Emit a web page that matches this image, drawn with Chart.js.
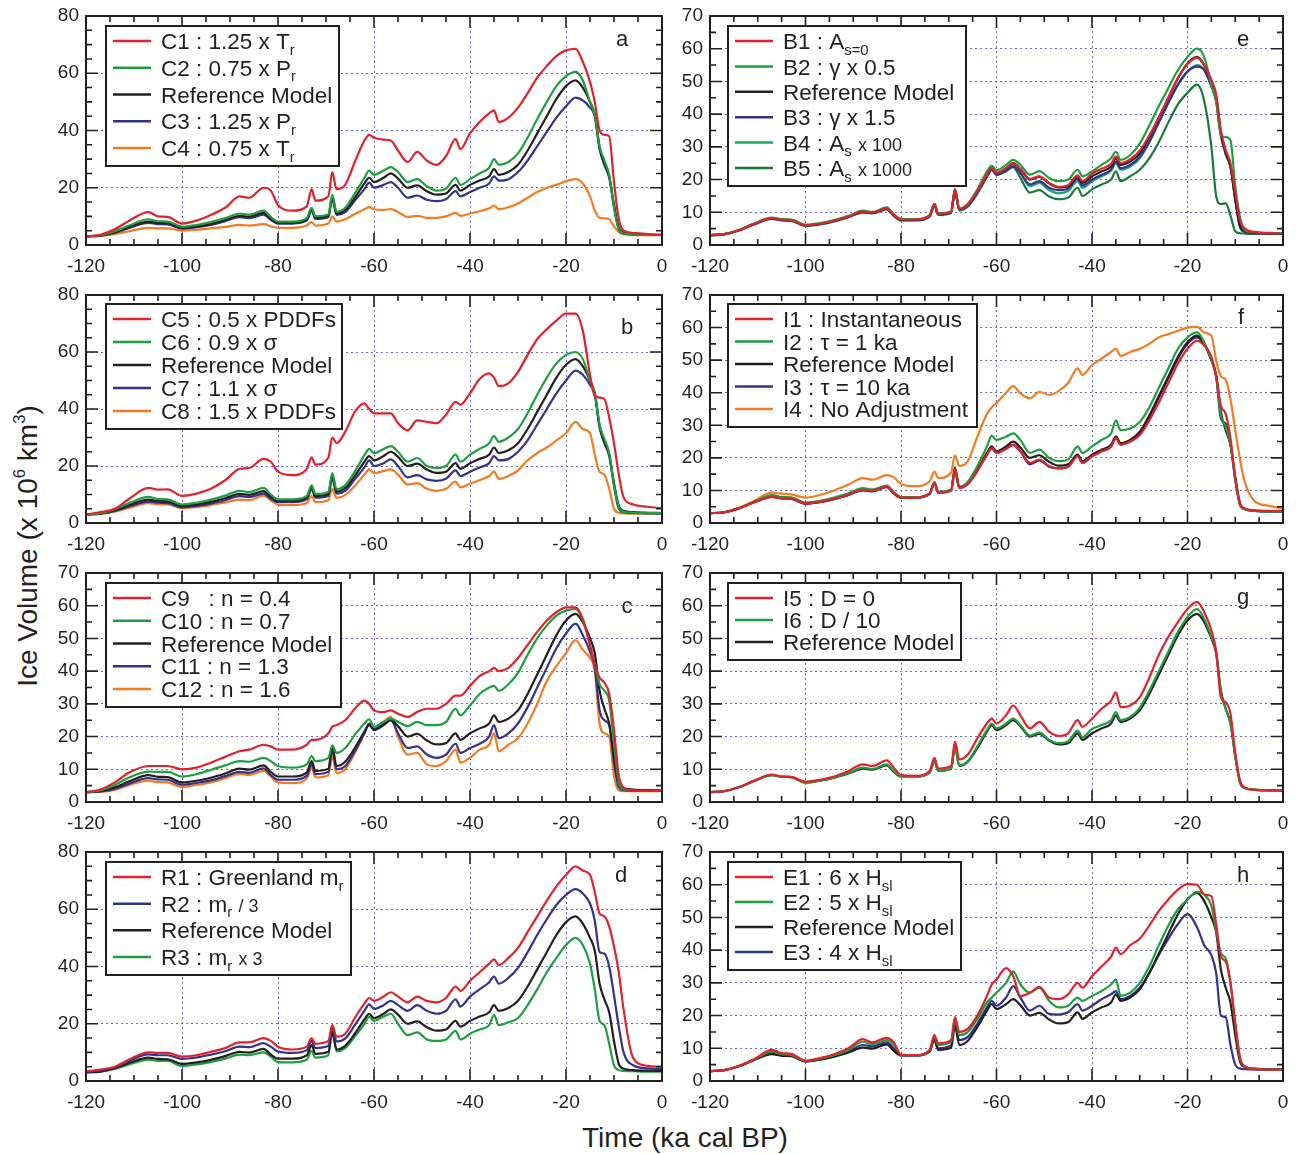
<!DOCTYPE html>
<html>
<head>
<meta charset="utf-8">
<script src="https://cdn.jsdelivr.net/npm/chart.js@4.4.1/dist/chart.umd.min.js"></script>
<style>
  body { margin: 0; background: #fff; }
  #wrap { position: relative; width: 1296px; height: 1154px; overflow: hidden; font-family: 'Liberation Sans', Arial, sans-serif; color: #231f20; }
  #wrap canvas { position: absolute; }
  #ytitle { position: absolute; left: -132px; top: 530px; width: 320px; height: 32px; line-height: 32px; text-align: center; font-size: 28px; transform: rotate(-90deg); white-space: nowrap; }
  #xtitle { position: absolute; left: 485px; top: 1122px; width: 400px; height: 32px; line-height: 32px; text-align: center; font-size: 28px; white-space: nowrap; }
  sup { font-size: 0.6em; vertical-align: 0.7em; line-height: 0; }
</style>
</head>
<body>
<div id="wrap">
  <div id="ytitle">Ice Volume (x 10<sup>6</sup> km<sup>3</sup>)</div>
  <div id="xtitle">Time (ka cal BP)</div>
</div>
<script>
// time axis (ka cal BP), shared by every series
const times = [
  -120, -117, -114, -111, -107, -105, -103, -100, -97, -94,
  -91, -88, -86, -83, -81.5, -80, -77, -74, -73, -72.2,
  -69.5, -68.7, -67.8, -66, -64, -62, -61, -60, -58, -56.5,
  -55, -53, -51, -49, -47, -45, -43, -42, -40, -38,
  -36, -35, -34, -32, -30, -28, -26, -24, -22, -20,
  -18, -16.5, -15, -14, -13, -12, -11, -10, -9, -8,
  -6, -3, 0
];

// reference model (black curve in every panel)
const refModel = [
  3.0, 3.3, 4.5, 6.3, 8.2, 7.7, 7.6, 6.0, 6.5, 7.4,
  8.7, 10.2, 9.9, 11.2, 9.2, 7.8, 7.8, 9.0, 12.5, 9.5,
  10.2, 17.0, 11.0, 12.3, 16.5, 21.5, 23.5, 22.0, 23.5, 25.0,
  23.2, 20.0, 20.8, 18.8, 17.6, 18.0, 21.0, 19.0, 21.0, 22.5,
  24.0, 26.5, 24.5, 25.5, 28.0, 33.0, 39.0, 45.0, 51.0, 55.5,
  57.5, 55.0, 50.0, 45.5, 34.0, 28.5, 24.0, 14.0, 6.0, 4.3,
  3.8, 3.6, 3.5
];

// panel a
const c1 = [
  3.0, 3.6, 5.5, 8.5, 11.5, 10.0, 9.8, 7.5, 8.5, 10.5,
  13.0, 17.0, 16.5, 20.0, 19.0, 14.0, 12.0, 13.5, 19.5, 15.5,
  17.0, 25.5, 19.5, 21.0, 29.0, 36.5, 38.5, 37.5, 36.8, 36.5,
  33.0, 29.0, 32.5, 29.5, 28.0, 31.0, 37.0, 33.5, 39.0, 43.0,
  46.0, 47.0, 43.0, 44.5, 48.0, 53.0, 58.5, 62.5, 66.0, 68.0,
  68.5, 64.0, 57.0, 50.0, 40.0, 38.5, 38.0, 22.0, 9.0, 5.0,
  4.2, 3.8, 3.6
];
const c2 = [
  3.0, 3.4, 4.8, 6.8, 9.0, 8.3, 8.2, 6.4, 7.0, 8.0,
  9.4, 11.0, 10.6, 12.0, 9.8, 8.2, 8.2, 9.4, 13.0, 10.0,
  10.7, 17.5, 11.6, 13.0, 18.0, 23.5, 26.0, 24.5, 26.0, 27.2,
  25.5, 22.0, 23.0, 20.5, 19.0, 19.7, 23.5, 21.0, 23.0, 25.0,
  27.0, 30.0, 28.0, 29.0, 32.0, 37.5, 44.0, 50.0, 55.5, 59.0,
  60.5, 57.5, 50.0, 45.5, 34.5, 29.5, 24.5, 13.0, 5.5, 4.0,
  3.7, 3.5, 3.5
];
const c3 = [
  3.0, 3.3, 4.3, 6.0, 7.7, 7.3, 7.2, 5.7, 6.2, 7.0,
  8.3, 9.7, 9.4, 10.6, 8.8, 7.5, 7.5, 8.6, 12.0, 9.1,
  9.8, 16.0, 10.5, 11.5, 15.5, 19.5, 21.8, 20.0, 21.0, 22.0,
  20.0, 16.5, 17.3, 15.8, 15.3, 16.0, 18.8, 17.0, 18.5, 20.0,
  21.5, 24.0, 22.5, 23.0, 25.5, 29.5, 34.5, 39.5, 44.5, 48.5,
  51.5, 50.5, 48.0, 45.0, 33.5, 28.0, 23.5, 13.5, 5.5, 4.0,
  3.7, 3.5, 3.5
];
const c4 = [
  3.0, 3.2, 3.8, 4.8, 6.0, 5.8, 5.8, 5.0, 5.3, 5.8,
  6.3, 7.0, 6.8, 7.3, 6.5, 6.0, 6.0, 6.8, 8.0, 6.8,
  7.5, 10.0, 8.2, 9.0, 10.8, 12.5, 13.2, 12.5, 12.3, 12.5,
  11.5, 9.8, 10.2, 9.5, 9.5, 10.0, 11.2, 10.2, 11.0, 11.8,
  12.8, 13.8, 12.5, 13.2, 14.5, 16.5, 18.5, 20.0, 21.0, 22.3,
  23.0, 21.5, 17.0, 12.0, 9.5, 9.3, 9.0, 6.5, 4.5, 3.8,
  3.5, 3.4, 3.4
];

// panel b
const c5 = [
  3.0, 3.8, 5.0, 8.5, 12.3, 11.7, 11.8, 9.5, 10.3, 12.0,
  15.0, 19.0, 19.3, 22.5, 21.5, 18.0, 16.8, 19.0, 23.0, 20.5,
  23.0, 30.0, 28.0, 32.0, 39.0, 42.0, 40.0, 38.5, 38.5, 38.5,
  35.0, 32.5, 36.0, 35.5, 35.0, 38.0, 42.5, 41.5, 45.5, 50.5,
  52.5, 51.0, 48.0, 49.0, 53.0, 59.0, 64.5, 68.0, 71.0, 73.5,
  73.5, 67.5, 52.0, 44.5, 44.0, 43.5, 37.0, 28.0, 17.0, 9.0,
  6.5, 5.7, 5.2
];
const c6 = [
  3.0, 3.4, 4.8, 7.0, 9.2, 8.4, 8.3, 6.5, 7.1, 8.1,
  9.6, 11.3, 10.8, 12.3, 10.0, 8.3, 8.3, 9.5, 13.2, 10.2,
  10.9, 17.5, 11.8, 13.2, 18.0, 23.8, 26.0, 24.5, 26.0, 27.0,
  25.0, 21.5, 22.8, 20.0, 19.3, 20.0, 24.0, 21.5, 24.0, 26.0,
  28.0, 30.5, 28.5, 30.0, 33.0, 38.5, 45.0, 51.0, 56.0, 59.0,
  60.0, 57.5, 50.0, 45.5, 34.5, 29.5, 24.5, 13.5, 5.5, 4.0,
  3.6, 3.5, 3.5
];
const c7 = [
  3.0, 3.3, 4.2, 5.8, 7.5, 7.1, 7.0, 5.5, 6.0, 6.8,
  8.0, 9.4, 9.1, 10.3, 8.5, 7.3, 7.3, 8.4, 11.8, 8.9,
  9.6, 15.8, 10.3, 11.3, 15.3, 19.5, 22.0, 20.0, 21.0, 22.3,
  20.0, 16.0, 16.8, 15.3, 14.8, 15.5, 18.5, 16.5, 18.0, 19.5,
  21.0, 23.5, 22.0, 22.5, 25.0, 29.0, 34.5, 40.0, 45.5, 50.0,
  53.5, 52.0, 48.5, 45.0, 33.5, 28.0, 23.5, 13.0, 5.0, 3.8,
  3.5, 3.4, 3.4
];
const c8 = [
  3.0, 3.2, 4.0, 5.3, 7.0, 6.5, 6.5, 5.2, 5.6, 6.3,
  7.2, 8.2, 8.0, 9.6, 8.0, 6.4, 6.3, 7.0, 9.5, 7.3,
  8.0, 12.0, 8.8, 9.8, 13.0, 17.0, 18.8, 17.5, 18.2, 18.8,
  17.0, 13.5, 14.0, 12.0, 11.3, 12.0, 14.5, 12.5, 13.8, 15.0,
  16.5, 18.0, 15.5, 16.5, 18.5, 22.0, 24.5, 26.5, 29.0, 31.5,
  35.5, 33.0, 31.5, 24.0, 18.0, 17.0, 12.0, 5.0, 3.6, 3.4,
  3.3, 3.3, 3.3
];

// panel c
const c9 = [
  3.0, 3.8, 6.0, 9.0, 11.0, 11.0, 11.0, 10.0, 10.5, 12.0,
  13.8, 15.5, 16.0, 17.5, 17.0, 16.0, 16.0, 17.5, 19.0, 19.0,
  21.0, 23.0, 23.5, 25.0, 28.5, 31.0, 30.0, 28.0, 27.5, 28.0,
  27.0, 26.0, 27.5, 28.5, 28.5, 30.0, 32.5, 32.5, 35.5, 38.5,
  40.0, 41.0, 40.0, 41.0, 44.0, 48.0, 52.0, 55.5, 58.0, 59.5,
  59.5, 56.0, 48.0, 42.0, 38.0, 36.5, 33.0, 22.0, 8.0, 4.5,
  3.5, 3.4, 3.4
];
const c10 = [
  3.0, 3.5, 5.2, 7.5, 9.3, 9.2, 9.2, 7.8, 8.5, 9.8,
  11.2, 12.5, 12.3, 13.5, 12.5, 11.0, 10.5, 11.5, 14.0, 12.5,
  13.5, 17.3, 15.0, 16.5, 20.5, 24.0, 25.3, 23.0, 24.5, 25.5,
  24.5, 23.2, 24.5, 23.5, 23.5, 24.5, 28.5, 26.5, 29.5, 33.0,
  35.0, 35.5, 34.0, 36.0, 39.5, 45.0, 50.0, 54.0, 57.0, 58.5,
  59.0, 55.5, 48.0, 42.0, 36.0, 34.0, 31.0, 18.0, 6.0, 4.0,
  3.5, 3.4, 3.4
];
const c11 = [
  3.0, 3.2, 4.0, 5.6, 7.3, 6.9, 6.8, 5.3, 5.8, 6.6,
  7.9, 9.2, 8.9, 10.3, 8.2, 6.8, 6.8, 8.0, 11.5, 8.5,
  9.3, 16.0, 10.0, 11.0, 15.5, 21.0, 24.0, 22.2, 24.0, 25.0,
  21.0, 16.5, 17.0, 14.5, 13.5, 14.5, 17.8, 15.0, 16.5, 17.8,
  20.0, 23.5, 19.5, 21.0, 24.0, 29.0, 35.0, 41.0, 47.0, 51.5,
  54.5, 51.0, 46.0, 41.0, 28.0, 25.0, 23.5, 12.0, 4.5, 3.6,
  3.4, 3.4, 3.4
];
const c12 = [
  3.0, 3.1, 3.7, 5.2, 6.5, 6.1, 6.0, 4.6, 5.2, 6.0,
  7.3, 8.6, 8.3, 9.5, 7.8, 6.0, 5.8, 7.2, 10.5, 7.5,
  8.2, 14.0, 8.8, 10.0, 15.0, 21.0, 24.0, 22.5, 24.5, 26.0,
  20.0, 14.5, 15.0, 11.5, 11.0, 12.5, 16.0, 12.0, 13.5, 16.0,
  17.5, 21.0, 15.5, 17.5, 19.5, 24.0, 30.0, 37.0, 41.5, 45.5,
  49.5, 46.5, 44.0, 40.0, 24.0, 21.0, 20.0, 8.0, 3.5, 3.3,
  3.3, 3.3, 3.3
];

// panel d
const r1 = [
  3.3, 4.0, 5.0, 7.5, 10.0, 9.8, 9.8, 8.5, 9.0, 10.2,
  11.5, 13.5, 13.5, 15.0, 14.0, 12.0, 11.0, 12.0, 15.0, 13.0,
  14.0, 19.5, 15.5, 16.5, 22.0, 27.0, 29.0, 28.0, 29.5, 31.0,
  29.5, 27.5, 29.5, 28.0, 27.5, 29.0, 33.0, 31.5, 35.0, 38.0,
  41.0, 42.5, 40.5, 43.0, 46.5, 52.0, 57.5, 63.0, 68.0, 72.0,
  75.0, 73.5, 72.0, 66.0, 58.5, 57.5, 54.0, 47.0, 38.0, 25.0,
  8.0, 5.3, 5.0
];
const r2 = [
  3.2, 3.7, 4.8, 7.0, 9.3, 9.0, 9.0, 7.7, 8.2, 9.2,
  10.4, 12.0, 11.8, 13.2, 12.0, 10.3, 9.8, 10.8, 14.0, 11.5,
  12.3, 19.3, 13.8, 14.8, 19.5, 24.5, 26.8, 25.2, 26.5, 28.0,
  26.5, 24.5, 26.5, 24.5, 23.5, 24.5, 28.5, 26.0, 29.5, 32.0,
  34.5, 36.5, 34.0, 36.0, 39.5, 45.0, 51.0, 56.5, 61.5, 65.0,
  67.0, 65.5, 62.0, 56.0, 45.0, 44.5, 40.0, 30.0, 19.0, 10.0,
  5.5, 4.4, 4.2
];
const r3 = [
  3.0, 3.3, 4.2, 5.8, 7.5, 7.0, 7.0, 5.2, 5.8, 6.6,
  7.8, 9.2, 9.0, 10.0, 8.5, 6.6, 6.5, 7.5, 10.5, 8.2,
  9.0, 19.0, 10.3, 11.5, 15.5, 20.0, 22.5, 21.0, 22.5, 23.5,
  20.0, 16.0, 17.0, 14.5, 14.0, 14.5, 17.5, 14.5, 16.5, 18.0,
  19.5, 23.0, 19.5, 20.5, 22.0, 26.5, 32.0, 38.0, 43.0, 47.5,
  50.0, 47.5, 41.0, 32.0, 21.0, 19.5, 13.0, 5.5, 3.8, 3.5,
  3.4, 3.3, 3.3
];

// panel e
const b1 = [
  3.0, 3.3, 4.5, 6.3, 8.2, 7.7, 7.6, 6.0, 6.5, 7.4,
  8.7, 10.2, 9.9, 11.2, 9.2, 7.8, 7.8, 9.0, 12.5, 9.5,
  10.2, 17.0, 11.0, 12.3, 16.5, 21.5, 23.5, 22.0, 23.5, 25.0,
  23.3, 20.2, 21.0, 19.0, 17.8, 18.3, 21.3, 19.5, 21.8, 23.3,
  24.8, 27.0, 25.0, 26.2, 28.8, 33.5, 39.0, 45.0, 51.0, 55.3,
  57.3, 55.0, 50.5, 46.0, 35.0, 29.0, 25.0, 16.0, 7.5, 5.0,
  4.0, 3.6, 3.5
];
const b2 = [
  3.0, 3.3, 4.6, 6.4, 8.4, 7.9, 7.8, 6.2, 6.7, 7.6,
  8.9, 10.5, 10.1, 11.5, 9.4, 8.0, 7.9, 9.1, 12.6, 9.6,
  10.3, 17.0, 11.2, 12.6, 17.0, 22.5, 24.3, 22.8, 24.5, 26.0,
  24.5, 21.5, 22.6, 20.5, 19.5, 20.0, 23.0, 21.0, 22.5, 24.5,
  26.5, 28.5, 26.0, 27.5, 31.0, 36.5, 42.5, 48.0, 53.5, 57.5,
  60.0, 57.5, 49.0, 44.0, 33.5, 33.0, 32.0, 18.0, 8.5, 4.5,
  3.9, 3.7, 3.6
];
const b3 = [
  3.0, 3.3, 4.5, 6.2, 8.1, 7.6, 7.5, 5.9, 6.4, 7.3,
  8.6, 10.0, 9.7, 11.0, 9.0, 7.7, 7.6, 8.8, 12.2, 9.3,
  10.0, 16.5, 10.8, 12.0, 16.0, 21.0, 23.0, 21.5, 22.8, 24.0,
  22.0, 18.5, 19.5, 17.5, 16.8, 17.3, 20.2, 18.2, 20.0, 21.5,
  23.0, 25.5, 23.5, 24.5, 27.0, 31.5, 37.5, 43.5, 49.0, 53.0,
  54.5, 53.5, 48.5, 44.0, 33.5, 28.0, 24.0, 14.0, 5.5, 4.0,
  3.6, 3.5, 3.4
];
const b4 = [
  3.0, 3.3, 4.5, 6.3, 8.2, 7.7, 7.6, 6.0, 6.5, 7.4,
  8.7, 10.2, 9.9, 11.2, 9.2, 7.8, 7.8, 9.0, 12.4, 9.4,
  10.0, 16.5, 10.8, 12.0, 16.0, 21.0, 23.3, 21.5, 23.0, 24.5,
  22.0, 18.0, 19.0, 16.8, 15.8, 16.5, 19.5, 17.5, 19.5, 21.0,
  22.8, 25.0, 23.0, 24.0, 26.5, 31.5, 37.5, 43.5, 49.0, 53.0,
  55.0, 53.5, 48.5, 44.0, 33.5, 27.5, 24.0, 14.0, 5.5, 4.0,
  3.6, 3.5, 3.4
];
const b5 = [
  2.9, 3.2, 4.4, 6.2, 8.0, 7.5, 7.4, 5.8, 6.3, 7.2,
  8.5, 10.0, 9.7, 10.9, 8.9, 7.5, 7.5, 8.7, 12.0, 9.2,
  9.8, 16.2, 10.6, 11.8, 15.8, 20.8, 23.0, 21.5, 22.5, 23.8,
  20.5, 16.0, 16.8, 14.8, 14.0, 14.5, 17.5, 15.0, 17.0, 18.5,
  20.0, 22.5, 19.5, 21.0, 23.0, 26.5, 31.5, 37.5, 43.0, 46.5,
  49.0, 44.0, 30.0, 15.0, 12.5, 12.8, 9.0, 4.2, 3.6, 3.5,
  3.4, 3.4, 3.4
];

// panel f
const i1 = [
  3.0, 3.3, 4.5, 6.2, 8.0, 7.6, 7.5, 6.0, 6.5, 7.4,
  8.7, 10.2, 9.9, 11.2, 9.2, 7.8, 7.8, 9.0, 12.3, 9.4,
  10.0, 16.5, 10.8, 12.0, 16.0, 21.0, 23.0, 21.5, 22.8, 24.0,
  22.0, 18.5, 19.5, 17.5, 16.8, 17.3, 20.5, 18.5, 20.5, 22.0,
  23.5, 26.0, 24.0, 25.0, 27.0, 31.5, 37.0, 43.0, 49.0, 53.5,
  56.0, 54.5, 51.0, 45.0, 36.0, 33.5, 26.0, 14.0, 6.0, 4.5,
  3.9, 3.7, 3.6
];
const i2 = [
  3.0, 3.3, 4.5, 6.3, 8.6, 8.0, 7.9, 6.3, 6.8, 7.8,
  9.1, 10.7, 10.3, 11.5, 9.5, 8.0, 7.9, 9.1, 12.5, 9.6,
  10.3, 16.5, 11.2, 12.7, 17.5, 23.5, 26.8, 25.5, 26.5, 27.5,
  25.5, 21.5, 22.5, 20.0, 19.0, 19.5, 23.5, 21.5, 23.5, 25.5,
  27.5, 31.5, 28.5, 29.0, 31.0, 35.5, 41.5, 47.5, 53.5, 57.0,
  58.5, 55.5, 50.0, 45.0, 33.0, 29.5, 24.0, 13.5, 5.5, 4.2,
  3.7, 3.5, 3.5
];
const i3 = [
  3.0, 3.3, 4.5, 6.2, 8.0, 7.5, 7.4, 5.9, 6.4, 7.3,
  8.6, 10.0, 9.7, 11.0, 9.0, 7.7, 7.7, 8.9, 12.2, 9.3,
  10.0, 16.0, 10.8, 12.0, 16.0, 21.0, 23.0, 21.5, 22.8, 24.0,
  22.0, 18.0, 19.2, 17.3, 16.8, 17.3, 20.5, 18.5, 20.5, 22.0,
  23.5, 26.5, 24.3, 25.0, 27.5, 32.5, 38.5, 44.5, 50.5, 55.0,
  57.0, 55.0, 50.0, 45.0, 32.0, 30.5, 24.5, 13.5, 5.5, 4.2,
  3.7, 3.5, 3.5
];
const i4 = [
  3.0, 3.3, 4.6, 6.6, 9.3, 9.0, 8.8, 7.8, 8.6, 10.0,
  11.8, 13.8, 13.3, 14.7, 14.0, 12.0, 11.3, 12.8, 15.8, 13.8,
  15.5, 20.8, 17.5, 19.0, 26.5, 33.5, 35.5, 36.8, 40.0, 42.0,
  39.8, 38.3, 40.3, 39.3, 40.5, 43.0, 47.5, 45.5, 48.5, 50.5,
  52.5, 53.5, 51.3, 52.5, 53.5, 55.0, 57.0, 58.0, 59.0, 60.0,
  60.2, 58.5, 57.5, 50.0, 45.0, 44.0, 38.0, 28.5, 19.5, 12.5,
  6.8, 5.3, 4.4
];

// panel g
const i5 = [
  3.0, 3.3, 4.5, 6.3, 8.4, 7.8, 7.7, 6.2, 6.8, 7.8,
  9.5, 11.5, 11.0, 12.7, 10.5, 8.2, 8.0, 9.5, 13.5, 10.2,
  11.0, 18.5, 13.0, 14.5, 19.5, 24.0, 25.5, 24.0, 26.5, 29.5,
  26.5, 22.5, 24.5, 21.5, 20.2, 21.0, 25.0, 23.0, 25.5, 28.5,
  31.0, 33.5, 29.0, 29.5, 32.0, 38.0, 45.0, 50.5, 55.0, 59.0,
  61.2, 58.0, 52.5, 46.0, 32.0, 30.5, 27.0, 15.0, 6.5, 4.5,
  3.7, 3.5, 3.5
];
const i6 = [
  3.0, 3.3, 4.5, 6.3, 8.2, 7.7, 7.6, 5.8, 6.5, 7.5,
  8.9, 10.5, 10.1, 11.5, 9.4, 7.9, 7.8, 9.0, 12.5, 9.5,
  10.2, 16.8, 11.2, 12.5, 17.0, 22.0, 24.0, 22.5, 24.0, 25.5,
  23.5, 20.3, 21.2, 19.0, 18.0, 18.5, 21.8, 19.8, 22.3, 23.5,
  25.0, 27.5, 25.0, 26.0, 28.8, 34.0, 40.0, 46.0, 52.0, 56.5,
  59.0, 56.0, 50.5, 46.0, 33.5, 28.5, 24.0, 14.0, 6.0, 4.3,
  3.8, 3.6, 3.5
];

// panel h
const e1 = [
  3.0, 3.3, 4.6, 6.5, 9.5, 8.5, 8.3, 6.2, 7.0, 8.2,
  10.0, 12.8, 11.8, 13.2, 11.8, 8.0, 7.9, 9.5, 14.0, 11.5,
  12.5, 19.5, 15.0, 16.0, 20.0, 26.0, 29.5, 31.0, 34.5, 32.0,
  26.0, 27.0, 28.8, 25.5, 25.0, 26.5, 30.0, 28.5, 32.0, 35.0,
  38.0, 40.8, 38.8, 41.5, 43.5, 47.5, 52.0, 55.5, 58.5, 60.2,
  60.0, 57.0, 56.5, 48.0, 38.0, 36.5, 30.0, 18.0, 7.0, 4.5,
  3.7, 3.5, 3.5
];
const e2 = [
  3.0, 3.3, 4.6, 6.4, 9.0, 8.2, 8.0, 6.1, 6.8, 7.9,
  9.5, 12.0, 11.3, 12.5, 11.2, 8.0, 7.9, 9.3, 13.5, 11.0,
  12.0, 19.0, 14.0, 15.0, 19.0, 24.0, 25.5, 27.0, 30.0, 33.5,
  29.5, 27.0, 28.5, 24.5, 22.5, 23.0, 25.5, 24.5, 26.0, 27.5,
  29.5, 31.0, 26.0, 27.0, 30.0, 35.0, 41.5, 47.5, 52.5, 55.5,
  57.8, 57.0, 53.5, 46.0, 39.0, 37.5, 30.0, 17.0, 7.0, 4.3,
  3.7, 3.5, 3.5
];
const e3 = [
  3.0, 3.3, 4.5, 6.3, 8.6, 7.9, 7.8, 6.0, 6.6, 7.6,
  9.0, 11.0, 10.6, 11.8, 10.0, 7.9, 7.8, 9.2, 13.0, 10.0,
  11.0, 17.5, 12.5, 13.5, 17.5, 22.5, 24.5, 23.0, 25.5, 29.0,
  25.5, 21.5, 23.0, 20.5, 20.3, 21.0, 23.5, 21.5, 23.0, 25.0,
  26.5, 27.5, 25.0, 26.0, 28.5, 33.0, 38.5, 43.5, 48.0, 51.0,
  47.0, 41.5, 38.5, 33.0, 20.0, 19.5, 11.0, 5.0, 3.8, 3.6,
  3.5, 3.5, 3.5
];

const RED = '#e3212b', GREEN = '#1e9f3e', BLACK = '#231f20', BLUE = '#34318f',
      ORANGE = '#f47b20', TEAL = '#1aa866', DKGREEN = '#177a3a';
const INK = '#231f20', GRID = '#6a6ac6';
const FONT = "'Liberation Sans', Arial, sans-serif";

// chart area edges (page pixels) per row / column
const ROW_TOP = [16, 295, 573, 852];
const ROW_BOTTOM = [245, 523, 802, 1081];
const COL_LEFT = [86, 710];
const COL_RIGHT = [662, 1283];
const CANVAS_LEFT = [30, 660];
const CANVAS_WIDTH = [650, 636];

const panels = [
  { col: 0, row: 0, yMax: 80, yStep: 20, letter: 'a', letterAt: [622, 40], box: [106, 26, 339, 166],
    series: [['C1 : 1.25 x T_{r}', RED, c1], ['C2 : 0.75 x P_{r}', GREEN, c2], ['Reference Model', BLACK, refModel],
             ['C3 : 1.25 x P_{r}', BLUE, c3], ['C4 : 0.75 x T_{r}', ORANGE, c4]] },
  { col: 0, row: 1, yMax: 80, yStep: 20, letter: 'b', letterAt: [627, 328], box: [106, 304, 342, 429],
    series: [['C5 : 0.5 x PDDFs', RED, c5], ['C6 : 0.9 x σ', GREEN, c6], ['Reference Model', BLACK, refModel],
             ['C7 : 1.1 x σ', BLUE, c7], ['C8 : 1.5 x PDDFs', ORANGE, c8]] },
  { col: 0, row: 2, yMax: 70, yStep: 10, letter: 'c', letterAt: [627, 607], box: [106, 583, 341, 707],
    series: [['C9   : n = 0.4', RED, c9], ['C10 : n = 0.7', GREEN, c10], ['Reference Model', BLACK, refModel],
             ['C11 : n = 1.3', BLUE, c11], ['C12 : n = 1.6', ORANGE, c12]] },
  { col: 0, row: 3, yMax: 80, yStep: 20, letter: 'd', letterAt: [621, 876], box: [106, 862, 351, 975],
    series: [['R1 : Greenland m_{r}', RED, r1], ['R2 : m_{r} ~{/ 3}', BLUE, r2], ['Reference Model', BLACK, refModel],
             ['R3 : m_{r} ~{x 3}', GREEN, r3]] },
  { col: 1, row: 0, yMax: 70, yStep: 10, letter: 'e', letterAt: [1243, 40], box: [728, 26, 966, 186],
    series: [['B1 : A_{s=0}', RED, b1], ['B2 : γ x 0.5', GREEN, b2], ['Reference Model', BLACK, refModel],
             ['B3 : γ x 1.5', BLUE, b3], ['B4 : A_{s} ~{x 100}', TEAL, b4], ['B5 : A_{s} ~{x 1000}', DKGREEN, b5]] },
  { col: 1, row: 1, yMax: 70, yStep: 10, letter: 'f', letterAt: [1241, 318], box: [728, 304, 977, 427],
    series: [['I1 : Instantaneous', RED, i1], ['I2 : τ = 1 ka', GREEN, i2], ['Reference Model', BLACK, refModel],
             ['I3 : τ = 10 ka', BLUE, i3], ['I4 : No Adjustment', ORANGE, i4]] },
  { col: 1, row: 2, yMax: 70, yStep: 10, letter: 'g', letterAt: [1243, 598], box: [728, 583, 961, 660],
    series: [['I5 : D = 0', RED, i5], ['I6 : D / 10', GREEN, i6], ['Reference Model', BLACK, refModel]] },
  { col: 1, row: 3, yMax: 70, yStep: 10, letter: 'h', letterAt: [1243, 876], box: [728, 862, 961, 970],
    series: [['E1 : 6 x H_{sl}', RED, e1], ['E2 : 5 x H_{sl}', GREEN, e2], ['Reference Model', BLACK, refModel],
             ['E3 : 4 x H_{sl}', BLUE, e3]] }
];

// "_{..}" subscript, "~{..}" smaller text
function parseRich(s) {
  const out = [], re = /([_~])\{([^}]*)\}/g;
  let last = 0, m;
  while ((m = re.exec(s))) {
    if (m.index > last) out.push({ t: s.slice(last, m.index), k: '' });
    out.push({ t: m[2], k: m[1] });
    last = re.lastIndex;
  }
  if (last < s.length) out.push({ t: s.slice(last), k: '' });
  return out;
}
const plain = s => s.replace(/[_~]\{([^}]*)\}/g, '$1');

function drawRich(ctx, text, x, y, size, maxW) {
  const segs = parseRich(text).map(g => {
    const fs = g.k === '_' ? size * 0.66 : g.k === '~' ? size * 0.8 : size;
    const dy = g.k === '_' ? size * 0.24 : 0;
    return { ...g, fs, dy };
  });
  let total = 0;
  segs.forEach(g => { ctx.font = g.fs + 'px ' + FONT; g.w = ctx.measureText(g.t).width; total += g.w; });
  const sx = Math.min(1, maxW / total);
  const base = y + size * 0.36;
  ctx.save();
  ctx.translate(x, 0);
  ctx.scale(sx, 1);
  ctx.textBaseline = 'alphabetic';
  ctx.textAlign = 'left';
  let cx = 0;
  segs.forEach(g => {
    ctx.font = g.fs + 'px ' + FONT;
    ctx.fillText(g.t, cx, base + g.dy);
    cx += g.w;
  });
  ctx.restore();
}

const panelDecor = {
  id: 'panelDecor',
  afterDatasetsDraw(chart, args, o) {
    const { ctx, chartArea: { left, right, top, bottom }, scales: { x, y } } = chart;
    ctx.save();
    // inward ticks on all four sides
    ctx.strokeStyle = INK;
    ctx.lineWidth = 1.6;
    ctx.beginPath();
    for (let v = -120; v <= 0; v += 5) {
      const px = x.getPixelForValue(v);
      const L = v % 20 === 0 ? 12 : 6;
      ctx.moveTo(px, bottom); ctx.lineTo(px, bottom - L);
      ctx.moveTo(px, top); ctx.lineTo(px, top + L);
    }
    for (let v = 0; v <= o.yMax; v += 5) {
      const py = y.getPixelForValue(v);
      const L = v % o.yStep === 0 ? 12 : 6;
      ctx.moveTo(left, py); ctx.lineTo(left + L, py);
      ctx.moveTo(right, py); ctx.lineTo(right - L, py);
    }
    ctx.stroke();
    ctx.lineWidth = 2;
    ctx.strokeRect(left, top, right - left, bottom - top);

    // legend box
    const [bx0, by0, bx1, by1] = o.box.map((v, i) => v - (i % 2 === 0 ? o.ox : o.oy));
    ctx.fillStyle = '#fff';
    ctx.fillRect(bx0, by0, bx1 - bx0, by1 - by0);
    ctx.lineWidth = 2;
    ctx.strokeStyle = INK;
    ctx.strokeRect(bx0, by0, bx1 - bx0, by1 - by0);
    const n = o.items.length;
    const first = by0 + 15, lastY = by1 - 18;
    const step = n > 1 ? (lastY - first) / (n - 1) : 0;
    o.items.forEach((it, i) => {
      const ry = first + i * step;
      ctx.strokeStyle = it.color;
      ctx.lineWidth = 2.5;
      ctx.beginPath();
      ctx.moveTo(bx0 + 7, ry); ctx.lineTo(bx0 + 45, ry);
      ctx.stroke();
      ctx.fillStyle = INK;
      drawRich(ctx, it.text, bx0 + 55, ry, 22.5, bx1 - 4 - (bx0 + 55));
    });

    // panel letter
    ctx.fillStyle = INK;
    ctx.font = '22px ' + FONT;
    ctx.textAlign = 'center';
    ctx.textBaseline = 'middle';
    ctx.fillText(o.letter, o.letterAt[0] - o.ox, o.letterAt[1] - o.oy);
    ctx.restore();
  }
};

Chart.defaults.font.family = FONT;
Chart.defaults.color = INK;

const wrap = document.getElementById('wrap');

panels.forEach(p => {
  const ox = CANVAS_LEFT[p.col], oy = ROW_TOP[p.row] - 12;
  const w = CANVAS_WIDTH[p.col];
  const h = ROW_BOTTOM[p.row] - ROW_TOP[p.row] + 51;
  const yAxisW = COL_LEFT[p.col] - ox;
  const padR = ox + w - COL_RIGHT[p.col];
  const cv = document.createElement('canvas');
  cv.width = w; cv.height = h;
  cv.style.left = ox + 'px'; cv.style.top = oy + 'px';
  cv.style.width = w + 'px'; cv.style.height = h + 'px';
  wrap.appendChild(cv);

  const tickFont = { size: 19, family: FONT };
  new Chart(cv, {
    type: 'line',
    data: {
      datasets: p.series.map(([label, color, values]) => ({
        label: plain(label),
        data: times.map((t, i) => ({ x: t, y: values[i] })),
        borderColor: color,
        borderWidth: 2.2,
        pointRadius: 0,
        fill: false,
        cubicInterpolationMode: 'monotone'
      }))
    },
    options: {
      responsive: false,
      animation: false,
      devicePixelRatio: 1,
      layout: { padding: { left: 0, right: padR, top: 12, bottom: 9 } },
      plugins: {
        legend: { display: false },
        tooltip: { enabled: false },
        panelDecor: {
          ox, oy, yMax: p.yMax, yStep: p.yStep, box: p.box, letter: p.letter, letterAt: p.letterAt,
          items: p.series.map(([label, color]) => ({ text: label, color }))
        }
      },
      scales: {
        x: {
          type: 'linear', min: -120, max: 0,
          ticks: { stepSize: 20, padding: 10, font: tickFont, color: INK, maxRotation: 0, autoSkip: false },
          grid: { color: GRID, lineWidth: 1, drawTicks: false },
          border: { display: false, dash: [2, 3] },
          afterFit(s) { s.height = 30; s.paddingLeft = 0; s.paddingRight = 0; }
        },
        y: {
          min: 0, max: p.yMax,
          ticks: { stepSize: p.yStep, padding: 7, font: tickFont, color: INK },
          grid: { color: GRID, lineWidth: 1, drawTicks: false },
          border: { display: false, dash: [2, 3] },
          afterFit(s) { s.width = yAxisW; s.paddingTop = 0; s.paddingBottom = 0; }
        }
      }
    },
    plugins: [panelDecor]
  });
});
</script>
</body>
</html>
